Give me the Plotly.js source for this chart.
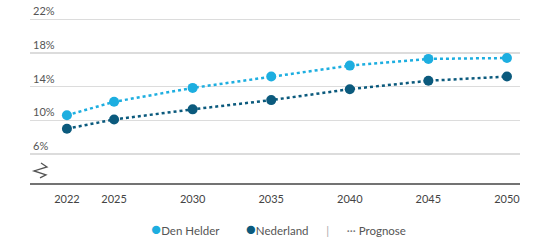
<!DOCTYPE html>
<html><head><meta charset="utf-8">
<script src="https://cdn.plot.ly/plotly-3.0.1.min.js"></script>
<style>html,body{margin:0;padding:0;background:#fff}#c{width:538px;height:243px}</style>
</head><body><div id="c"></div>
<script>
const years = [2022, 2025, 2030, 2035, 2040, 2045, 2050];
const denHelder = [10.6, 12.2, 13.85, 15.2, 16.5, 17.3, 17.4];
const nederland = [9.0, 10.1, 11.3, 12.4, 13.7, 14.7, 15.2];
const yTicks = [6, 10, 14, 18, 22];
const yTickLabels = ['6%', '10%', '14%', '18%', '22%'];
const seriesNames = ['Den Helder', 'Nederland'];
const prognoseLabel = 'Prognose';
const colors = ['#1daee0', '#0b5a7d'];

const traces = [denHelder, nederland].map((vals, i) => ({
  x: years, y: vals, name: seriesNames[i], type: 'scatter', mode: 'lines+markers',
  line: {color: colors[i], width: 2.5, dash: 'dot'},
  marker: {color: colors[i], size: 10},
  showlegend: false, hoverinfo: 'skip'
}));

const legendText =
  `<span style="color:${colors[0]};font-size:17px">●</span>${seriesNames[0]}         ` +
  `<span style="color:${colors[1]};font-size:17px">●</span>${seriesNames[1]}      ` +
  `<span style="color:#aaa">|</span>      <span style="color:#777">···</span> ${prognoseLabel}`;

const layout = {
  width: 538, height: 243,
  margin: {l: 30, r: 18, t: 2, b: 59},
  paper_bgcolor: '#fff', plot_bgcolor: '#fff',
  font: {family: 'Lato, "Open Sans", sans-serif', size: 11, color: '#555'},
  showlegend: false,
  xaxis: {
    range: [2019.65, 2050.83], tickvals: years, ticktext: years.map(String),
    showgrid: false, zeroline: false, showline: false, ticks: '',
    ticklabelstandoff: 7,
    tickfont: {size: 11, color: '#444'}
  },
  yaxis: {
    range: [2.43, 24.06], tickvals: yTicks, ticktext: yTickLabels,
    showgrid: true, gridcolor: '#dcdcdc', gridwidth: 1.5, zeroline: false,
    showline: false, ticks: '', ticklabelposition: 'inside top',
    tickfont: {size: 11, color: '#555'}
  },
  shapes: [
    {type: 'line', xref: 'paper', yref: 'paper', x0: 0, x1: 1, y0: 0, y1: 0,
     line: {color: '#444', width: 1.5}},
    {type: 'path', xref: 'paper', yref: 'y', xsizemode: 'pixel', ysizemode: 'pixel',
     xanchor: 0, yanchor: 4.1, path: 'M 11 7 L 17 3 L 4 -1 L 16 -5 L 10 -8',
     line: {color: '#555', width: 1.3}}
  ],
  annotations: [
    {xref: 'paper', yref: 'paper', x: 0.507, y: -0.245, xanchor: 'center', yanchor: 'middle',
     showarrow: false, text: legendText, font: {size: 11.5, color: '#555'}}
  ]
};
Plotly.newPlot('c', traces, layout, {displayModeBar: false, staticPlot: true});
</script></body></html>
